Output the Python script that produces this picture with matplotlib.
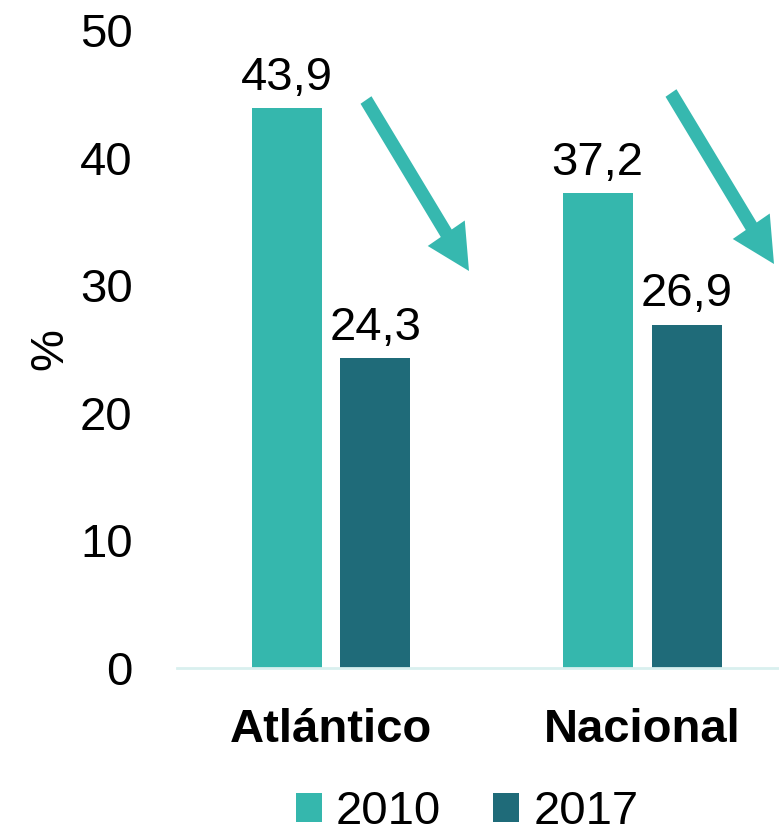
import matplotlib
matplotlib.use("Agg")
import matplotlib.pyplot as plt
from matplotlib.patches import FancyArrow
import numpy as np

plt.rcParams['font.family'] = ['Liberation Sans', 'DejaVu Sans']

categories = ["Atlántico", "Nacional"]
series_names = ["2010", "2017"]
values_2010 = [43.9, 37.2]
values_2017 = [24.3, 26.9]
colors = ["#35B7AD", "#1F6B79"]

FS = 34
W, H = 779, 833
fig = plt.figure(figsize=(W / 100, H / 100), dpi=100)
ax = fig.add_axes([177 / W, 1 - 668 / H, 1 - 177 / W, (668 - 30) / H])

x = np.arange(len(categories))
width = 0.225
off = 0.143
b1 = ax.bar(x - off, values_2010, width, color=colors[0], label=series_names[0])
b2 = ax.bar(x + off, values_2017, width, color=colors[1], label=series_names[1])

for bars, vals in ((b1, values_2010), (b2, values_2017)):
    for r, v in zip(bars, vals):
        ax.annotate(f"{v:.1f}".replace(".", ","), (r.get_x() + r.get_width() / 2, v),
                    xytext=(0, 6), textcoords="offset points", ha="center", va="bottom",
                    fontsize=FS, color="black")

ax.set_ylim(0, 50)
ax.set_xlim(-0.495, 1.44)
ax.set_yticks([0, 10, 20, 30, 40, 50])
ax.set_xticks(x)
ax.set_xticklabels(categories, fontsize=FS, fontweight="bold")
ax.tick_params(axis="y", labelsize=FS, length=0, pad=32)
ax.tick_params(axis="x", length=0, pad=29)
for s in ["left", "right", "top"]:
    ax.spines[s].set_visible(False)
ax.spines["bottom"].set_color("#D9F0EF")
ax.spines["bottom"].set_linewidth(2)
ax.set_ylabel("%", fontsize=FS)
ax.yaxis.set_label_coords(-0.173, 0.5)

# decorative arrows (figure pixel coordinates)
def arrow(x0, y0, x1, y1):
    dx, dy = (x1 - x0) / W, -(y1 - y0) / H
    fa = FancyArrow(x0 / W, 1 - y0 / H, dx, dy, width=13 / W, head_width=44 / W,
                    head_length=42 / W, length_includes_head=True,
                    transform=fig.transFigure, color="#36B8AF", lw=0)
    fig.patches.append(fa)

arrow(366, 100, 469, 271)
arrow(671, 93, 774, 264)

leg = fig.legend(handles=[b1, b2], labels=series_names, loc="center",
                 bbox_to_anchor=(467 / W, 1 - 812 / H), ncol=2, frameon=False,
                 fontsize=FS, handlelength=0.55, handleheight=0.55, handletextpad=0.3,
                 columnspacing=1.1)

fig.savefig("out.png", dpi=100)
